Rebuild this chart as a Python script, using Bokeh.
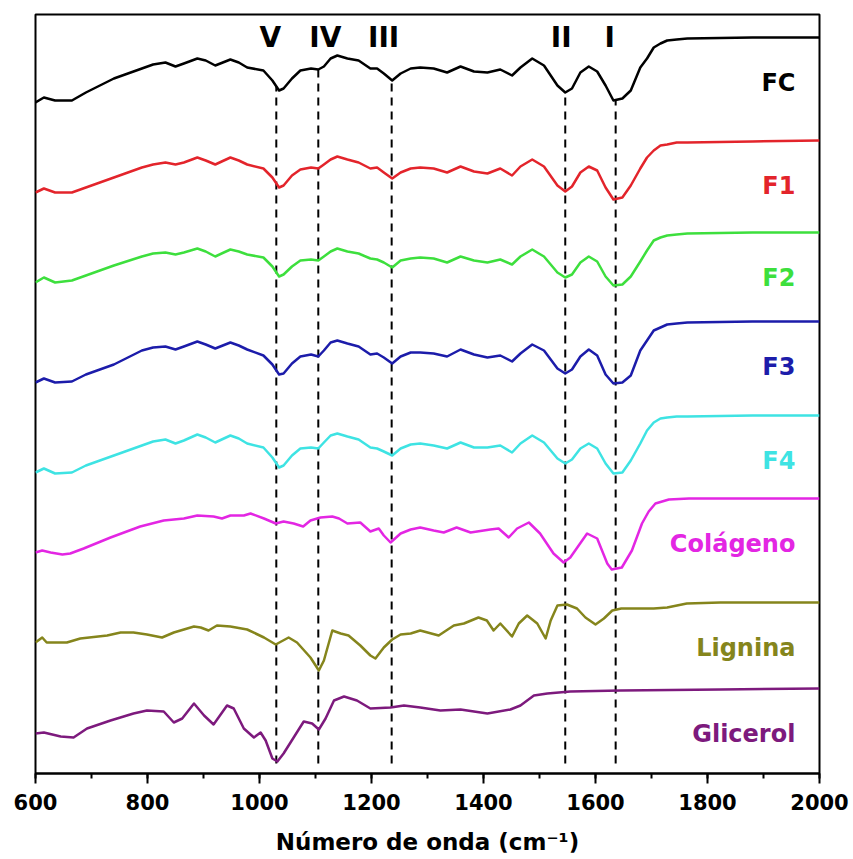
import numpy as np
from bokeh.plotting import figure
from bokeh.models import Range1d, SingleIntervalTicker, ColumnDataSource
from bokeh.core.properties import value
from bokeh.embed import file_html
from bokeh.resources import INLINE

# FTIR spectra (transmittance, arbitrary units, relative to the 2000 cm-1 plateau)

# wavenumber grid (cm-1) for the collagen-based films
wn_films = [600, 615, 635, 665, 690, 740, 790, 810, 832, 850, 865, 889, 904, 921, 948,
            963, 978, 1007, 1023, 1035, 1043, 1058, 1073, 1092, 1105, 1115, 1127, 1139,
            1157, 1177, 1198, 1210, 1222, 1237, 1252, 1270, 1287, 1311, 1335, 1359, 1383,
            1407, 1430, 1451, 1466, 1487, 1508, 1532, 1546, 1558, 1573, 1588, 1603, 1618,
            1632, 1648, 1663, 1680, 1692, 1704, 1716, 1728, 1745, 1764, 1880, 2000]

fc = [-65, -60, -63, -63, -55, -41, -31, -27, -25, -29, -26, -21, -23, -28, -22, -25, -30,
      -33, -43, -53, -51, -41, -33, -31, -32, -29, -21, -18, -21, -23, -31, -31, -36, -43,
      -36, -31, -30, -31, -35, -29, -34, -35, -32, -38, -30, -21, -28, -48, -55, -51, -35,
      -29, -34, -48, -63, -61, -53, -30, -21, -10, -6, -3, -2, -1, 0, 0]

f1 = [-52, -48, -52, -52, -47, -37, -27, -24, -22, -24, -22, -17, -20, -24, -17, -20, -24,
      -28, -37, -47, -45, -35, -29, -27, -28, -24, -19, -16, -19, -22, -28, -27, -32, -38,
      -32, -28, -27, -28, -32, -26, -31, -33, -28, -35, -26, -19, -26, -45, -51, -46, -32,
      -26, -30, -47, -59, -57, -45, -28, -17, -10, -5, -4, -2, -2, -1, 0]

f2 = [-50, -45, -50, -48, -43, -33, -24, -21, -20, -22, -20, -16, -19, -24, -17, -19, -22,
      -25, -34, -44, -42, -34, -28, -27, -28, -24, -19, -16, -19, -21, -26, -27, -30, -35,
      -28, -26, -25, -26, -30, -24, -28, -30, -27, -32, -24, -17, -24, -40, -45, -42, -30,
      -24, -29, -44, -53, -52, -44, -29, -18, -8, -5, -3, -2, -1, 0, 0]

f3 = [-61, -57, -61, -60, -53, -43, -29, -26, -25, -28, -25, -20, -23, -27, -21, -24, -28,
      -34, -43, -53, -52, -42, -35, -33, -35, -29, -21, -19, -22, -25, -33, -32, -36, -42,
      -35, -31, -31, -32, -35, -28, -33, -36, -34, -40, -32, -23, -29, -47, -52, -48, -35,
      -28, -34, -53, -62, -61, -54, -29, -19, -9, -6, -3, -2, -1, 0, 0]

f4 = [-57, -53, -58, -57, -50, -40, -30, -26, -24, -28, -25, -19, -22, -27, -20, -23, -28,
      -32, -42, -52, -50, -40, -33, -32, -33, -27, -20, -18, -21, -24, -32, -33, -36, -40,
      -33, -29, -28, -30, -33, -27, -32, -32, -30, -37, -28, -20, -27, -43, -48, -44, -33,
      -28, -33, -48, -58, -57, -45, -28, -15, -7, -3, -2, -1, -1, 0, 0]

wn_colageno = [600, 612, 627, 648, 662, 686, 734, 787, 829, 865, 889, 918, 933, 948, 972,
               984, 1008, 1029, 1043, 1061, 1078, 1091, 1109, 1130, 1142, 1157, 1180, 1198,
               1213, 1222, 1234, 1252, 1270, 1287, 1311, 1329, 1352, 1377, 1412, 1427, 1445,
               1460, 1481, 1501, 1525, 1543, 1555, 1585, 1603, 1621, 1629, 1647, 1665, 1683,
               1695, 1707, 1719, 1731, 1767, 1880, 2000]
colageno = [-54, -52, -54, -56, -55, -50, -39, -28, -22, -20, -17, -18, -20, -17, -17, -15,
            -20, -25, -23, -25, -28, -22, -19, -18, -20, -25, -24, -33, -30, -37, -44, -35,
            -31, -29, -32, -34, -29, -34, -31, -30, -39, -30, -24, -35, -55, -64, -59, -35,
            -40, -65, -71, -69, -52, -25, -13, -5, -3, -1, 0, 0, 0]

wn_lignina = [600, 612, 620, 656, 680, 728, 752, 775, 799, 826, 847, 883, 895, 909, 924,
              948, 978, 1008, 1029, 1052, 1067, 1091, 1106, 1115, 1130, 1145, 1159, 1180,
              1198, 1207, 1222, 1237, 1252, 1270, 1287, 1320, 1347, 1365, 1391, 1406, 1418,
              1430, 1451, 1463, 1478, 1496, 1511, 1520, 1532, 1549, 1567, 1582, 1600, 1615,
              1630, 1646, 1704, 1728, 1763, 1823, 2000]
lignina = [-40, -35, -40, -40, -36, -33, -30, -30, -32, -35, -30, -24, -25, -28, -23, -24,
           -27, -35, -42, -35, -40, -55, -68, -58, -28, -31, -33, -43, -53, -56, -45, -37,
           -32, -31, -28, -33, -23, -21, -15, -18, -28, -21, -34, -21, -13, -21, -36, -18,
           -3, -2, -6, -15, -22, -16, -8, -6, -6, -5, -1, 0, 0]

wn_glicerol = [600, 615, 645, 668, 692, 734, 775, 799, 829, 847, 862, 883, 901, 918, 942,
               954, 972, 990, 1002, 1011, 1023, 1032, 1043, 1061, 1079, 1094, 1106, 1118,
               1133, 1151, 1174, 1198, 1234, 1258, 1287, 1323, 1359, 1407, 1448, 1466, 1490,
               1514, 1555, 1645, 1823, 2000]
glicerol = [-45, -44, -48, -49, -40, -32, -25, -22, -23, -34, -30, -15, -27, -36, -17, -20,
            -40, -49, -44, -52, -70, -73, -65, -49, -33, -35, -41, -30, -12, -8, -12, -20,
            -19, -17, -19, -22, -21, -25, -21, -17, -7, -5, -3, -2, -1, 0]

names = ["FC", "F1", "F2", "F3", "F4", "Colágeno", "Lignina", "Glicerol"]
wavenumbers = [wn_films, wn_films, wn_films, wn_films, wn_films,
               wn_colageno, wn_lignina, wn_glicerol]
spectra = [fc, f1, f2, f3, f4, colageno, lignina, glicerol]
offsets = [736, 633, 541, 452, 358, 275, 171, 85]
colors = ["#000000", "#e3242b", "#3ddf3d", "#1c1caa", "#3ee3e3",
          "#e326e3", "#85851c", "#7d1a7d"]

# characteristic bands marked with dashed lines
band_wn = [1030, 1105, 1236, 1546, 1636]
band_labels = ["V", "IV", "III", "II", "I"]
band_label_shift = [-6, 7, -8, -4, -6]   # px nudge of each numeral

FONT = "DejaVu Sans"

p = figure(width=853, height=859, output_backend="svg", toolbar_location=None,
           x_range=Range1d(600, 2000), y_range=Range1d(0, 759),
           min_border_left=35, min_border_right=34, min_border_top=14,
           min_border_bottom=86)

p.background_fill_color = "white"
p.border_fill_color = "white"
p.grid.visible = False
p.yaxis.visible = False
p.outline_line_color = "black"
p.outline_line_width = 2
p.outline_line_alpha = 1

ax = p.xaxis[0]
ax.ticker = SingleIntervalTicker(interval=200, num_minor_ticks=2)
ax.axis_line_width = 2
ax.major_tick_line_width = 2
ax.minor_tick_line_width = 2
ax.major_tick_in = 0
ax.major_tick_out = 10
ax.minor_tick_in = 0
ax.minor_tick_out = 5
ax.major_label_text_font = FONT
ax.major_label_text_font_style = "bold"
ax.major_label_text_font_size = "21px"
ax.major_label_text_color = "black"
ax.major_label_standoff = 10
ax.axis_label = "Número de onda (cm⁻¹)"
ax.axis_label_text_font = FONT
ax.axis_label_text_font_style = "bold"
ax.axis_label_text_font_size = "23px"
ax.axis_label_text_color = "black"
ax.axis_label_standoff = 16

# dashed band markers, from the FC spectrum down to the bottom of the frame
band_top = np.interp(band_wn, wn_films, fc) + offsets[0]
p.segment(x0=band_wn, y0=[10] * len(band_wn), x1=band_wn, y1=band_top,
          line_color="black", line_width=2, line_dash="8 6")

# stacked spectra
for wn, t, off, col in zip(wavenumbers, spectra, offsets, colors):
    p.line(wn, np.asarray(t) + off, line_color=col, line_width=2.5, line_join="round")

# band numerals
band_src = ColumnDataSource(dict(x=band_wn, y=[728] * len(band_wn), t=band_labels,
                                 dx=band_label_shift))
p.text(x="x", y="y", text="t", source=band_src, text_font=value(FONT),
       text_font_style="bold", text_font_size="28px", text_color="black",
       text_align="center", text_baseline="middle", x_offset="dx", y_offset=-8)

# sample names
name_src = ColumnDataSource(dict(x=[1957] * len(names), y=offsets, t=names, c=colors))
p.text(x="x", y="y", text="t", text_color="c", source=name_src, text_font=value(FONT),
       text_font_style="bold", text_font_size="24px", text_align="right",
       text_baseline="middle", y_offset=45)

open("out.html", "w").write(file_html(p, INLINE))
